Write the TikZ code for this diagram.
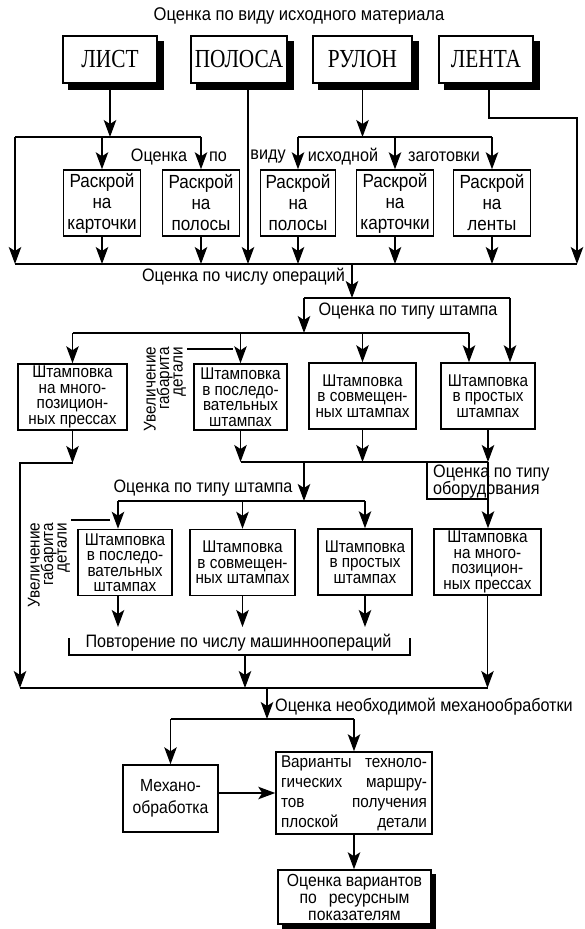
\documentclass[tikz,border=0pt]{standalone}
\usepackage{fontspec}
\setmainfont{Liberation Sans}[FakeStretch=0.9]
\newfontfamily\stockfont{Liberation Serif}[FakeStretch=0.82]
\usetikzlibrary{arrows.meta,positioning}

\begin{document}
\begin{tikzpicture}[
    x=1pt, y=-1pt,
    box/.style={
        draw,
        line width=1.5pt,
        align=center,
        inner xsep=2pt,
        inner ysep=0.5pt,
        minimum height=66pt
    },
    stock/.style={
        box,
        fill=white,
        minimum width=94pt,
        minimum height=47pt,
        font=\stockfont\fontsize{26}{26}\selectfont
    },
    cut/.style={box, minimum width=77pt, font=\fontsize{19}{21}\selectfont},
    stamp/.style={box, font=\fontsize{17}{15.5}\selectfont},
    note/.style={inner sep=0pt, font=\fontsize{18}{17}\selectfont},
    sidenote/.style={rotate=90, align=right, inner sep=1pt, font=\fontsize{17}{13.5}\selectfont},
    edge/.style={-{Stealth[length=17pt, width=12.5pt, inset=4pt]}, line width=1.35pt},
    link/.style={line width=1.35pt}
]
\useasboundingbox (0,0) rectangle (584,929);

\node[note, font=\fontsize{18.4}{18}\selectfont] (title) at (299,16) {Оценка по виду исходного материала};
\node[stock] (list) at (110,59.5) {ЛИСТ};
\node[stock, minimum width=96pt] (strip) at (239,59.5) {ПОЛОСА};
\node[stock, minimum width=99pt] (coil) at (362.5,59.5) {РУЛОН};
\node[stock] (tape) at (486,59.5) {ЛЕНТА};

\node[cut] (cut1) at (102,203) {Раскрой\\на\\карточки};
\node[cut] (cut2) at (201,203) {Раскрой\\на\\полосы};
\node[cut, minimum width=75pt] (cut3) at (298,203) {Раскрой\\на\\полосы};
\node[cut] (cut4) at (395,203) {Раскрой\\на\\карточки};
\node[cut] (cut5) at (492,203) {Раскрой\\на\\ленты};

\node[note] at (159,157) {Оценка};
\node[note] at (218,157) {по};
\node[note] at (268,157) {виду};
\node[note] at (343,157) {исходной};
\node[note] at (444,157) {заготовки};

\node[stamp, minimum width=109pt] (multi1) at (72.5,397) {Штамповка\\на много-\\позицион-\\ных прессах};
\node[stamp, minimum width=93pt] (prog1) at (240.5,397) {Штамповка\\в последо-\\вательных\\штампах};
\node[stamp, minimum width=107pt] (comp1) at (362.5,396) {Штамповка\\в совмещен-\\ных штампах};
\node[stamp, minimum width=94pt] (simp1) at (488,396) {Штамповка\\в простых\\штампах};
\node[sidenote] (size1) at (165,389) {Увеличение\\габарита\\детали};

\node[stamp, minimum width=94pt] (prog2) at (125,562.5) {Штамповка\\в последо-\\вательных\\штампах};
\node[stamp, minimum width=105pt] (comp2) at (242.5,562.5) {Штамповка\\в совмещен-\\ных штампах};
\node[stamp, minimum width=94pt] (simp2) at (365,562) {Штамповка\\в простых\\штампах};
\node[stamp, minimum width=107pt] (multi2) at (487.5,562) {Штамповка\\на много-\\позицион-\\ных прессах};
\node[sidenote] (size2) at (49,565) {Увеличение\\габарита\\детали};

\node[box, minimum width=95pt, minimum height=67pt, font=\fontsize{17.5}{22}\selectfont] (mach) at (170.5,798.5) {Механо-\\обработка};
\node[box, minimum width=156pt, minimum height=82pt, font=\fontsize{17}{20}\selectfont] (routes) at (354,793)
    {\makebox[146pt][s]{Варианты техноло-}\\\makebox[146pt][s]{гических маршру-}\\\makebox[146pt][s]{тов получения}\\\makebox[146pt][s]{плоской детали}};
\node[box, fill=white, minimum width=153pt, minimum height=54pt, inner ysep=0pt, font=\fontsize{17.5}{17}\selectfont] (rank) at (354.5,897)
    {Оценка вариантов\\\makebox[110pt][s]{по ресурсным}\\показателям};

\foreach \n/\d in {list/6,strip/6,coil/6,tape/6,rank/4.5} {
    \fill (\n.north east) ++(0,\d) rectangle ([shift={(\d,\d)}]\n.south east);
    \fill (\n.south west) ++(\d,0) rectangle ([shift={(\d,\d)}]\n.south east);
}

\coordinate (splitL) at (15,137);
\coordinate (busA) at (15,264);
\coordinate (busAR) at (577,264);
\coordinate (tapeR) at (577,118);

\draw[edge] (list) -- (list |- splitL);
\draw[link] (splitL) -- (cut2 |- splitL);
\draw[edge] (cut1 |- splitL) -- (cut1);
\draw[edge] (cut2 |- splitL) -- (cut2);
\draw[edge] (splitL) -- (busA);
\draw[edge] (coil) -- (coil |- splitL);
\draw[link] (cut3 |- splitL) -- (cut5 |- splitL);
\foreach \n in {cut3,cut4,cut5}
    \draw[edge] (\n |- splitL) -- (\n);
\draw[edge] ([xshift=9pt]strip.south) -- ([xshift=9pt]strip.south |- busA);
\draw[edge] ([xshift=3pt]tape.south) |- (tapeR) -- (busAR);
\draw[link] (busA) -- (busAR);
\foreach \n in {cut1,cut2,cut3,cut4,cut5}
    \draw[edge] (\n) -- (\n |- busA);

\node[note, anchor=east] (opsnote) at (345,277) {Оценка по числу операций};
\coordinate (ops) at (352,264);
\coordinate (dieL) at (304,298);
\coordinate (dieR) at (510,298);
\coordinate (busB) at (72.5,333);
\coordinate (busBR) at (469,333);
\draw[edge] (ops) -- (ops |- dieL);
\draw[link] (dieL) -- (dieR);
\node[note] (dienote) at (408,311) {Оценка по типу штампа};
\draw[edge] (dieL) -- (dieL |- busB);
\draw[edge] (dieR) -- (dieR |- simp1.north);
\draw[link] (busB) -- (busBR);
\foreach \n in {multi1,prog1,comp1}
    \draw[edge] (\n |- busB) -- (\n);
\draw[edge] (busBR) -- (busBR |- simp1.north);
\coordinate (size1end) at (233,349);
\draw[link] (size1end -| size1.south) -- (size1end);

\coordinate (busC) at (20,463);
\coordinate (busD) at (20,688);
\coordinate (joinL) at (240.5,462);
\coordinate (die2) at (304,462);
\coordinate (busF) at (118,501);
\draw[edge] (multi1) -- (multi1 |- busC);
\draw[edge] (multi1 |- busC) -- (busC) -- (busD);
\foreach \n in {prog1,comp1,simp1}
    \draw[edge] (\n) -- (\n |- joinL);
\draw[link] (prog1 |- joinL) -- (simp1 |- joinL);
\draw[edge] (die2) -- (die2 |- busF);
\node[note] (die2note) at (203,488) {Оценка по типу штампа};
\draw[link] (busF) -- (simp2 |- busF);
\draw[edge] (busF) -- (busF |- prog2.north);
\draw[edge] (comp2 |- busF) -- (comp2);
\draw[edge] (simp2 |- busF) -- (simp2);
\draw[edge] (simp1 |- joinL) -- (simp1 |- multi2.north);
\coordinate (eqA) at (427,462);
\coordinate (eqB) at (488,499);
\draw[link] (eqA) |- (eqB);
\node[note, anchor=west, align=left] (eqnote) at (433,481.5) {Оценка по типу\\оборудования};
\coordinate (size2end) at (110,520);
\draw[link] (size2end -| size2.south) -- (size2end);

\coordinate (repT) at (0,627);
\coordinate (rep) at (245,655);
\coordinate (repL) at (69,638);
\coordinate (repR) at (410,638);
\draw[edge] (busF |- prog2.south) -- (busF |- repT);
\draw[edge] (comp2) -- (comp2 |- repT);
\draw[edge] (simp2) -- (simp2 |- repT);
\draw[link] (repL) |- (rep) -| (repR);
\node[note] (repnote) at (238.5,643) {Повторение по числу машинноопераций};
\draw[edge] (rep) -- (rep |- busD);
\draw[edge] (multi2) -- (multi2 |- busD);
\draw[link] (busD) -- (multi2 |- busD);

\coordinate (mill) at (267,688);
\coordinate (millB) at (267,719);
\draw[edge] (mill) -- (millB);
\node[note, anchor=west] (millnote) at (275,707) {Оценка необходимой механообработки};
\draw[link] (mach |- millB) -- (routes |- millB);
\draw[edge] (mach |- millB) -- (mach);
\draw[edge] (routes |- millB) -- (routes);
\draw[edge] (mach.east |- routes) -- (routes);
\draw[edge] (routes) -- (routes |- rank.north);
\end{tikzpicture}
\end{document}
